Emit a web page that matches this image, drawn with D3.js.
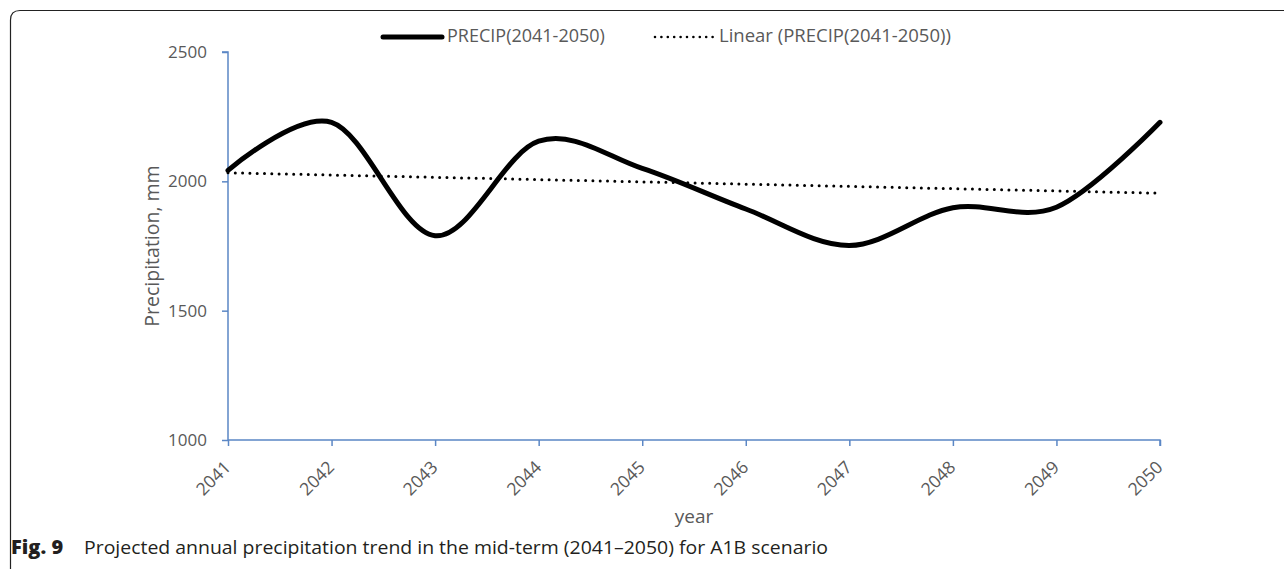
<!DOCTYPE html>
<html>
<head>
<meta charset="utf-8">
<script src="https://cdn.jsdelivr.net/npm/d3@7"></script>
<style>
  html, body { margin: 0; padding: 0; background: #fff; }
  svg { display: block; }
</style>
</head>
<body>
<svg id="chart" width="1284" height="569"></svg>
<script>
// ---- data ----
const years = [2041, 2042, 2043, 2044, 2045, 2046, 2047, 2048, 2049, 2050];
const precip = [2042, 2228, 1790, 2155, 2050, 1893, 1752, 1898, 1900, 2228];
const yTicks = [1000, 1500, 2000, 2500];
const seriesName = "PRECIP(2041-2050)";
const trendName = "Linear (PRECIP(2041-2050))";
const yTitle = "Precipitation, mm";
const xTitle = "year";
const captionBold = "Fig. 9";
const captionText = "Projected annual precipitation trend in the mid-term (2041\u20132050) for A1B scenario";

(function () {
// ---- layout ----
const svg = d3.select("#chart");
const pL = 228, pR = 1160, pT = 52, pB = 440;
const axisColor = "#5b87c5";
const textColor = "#595959";
const font = "'Open Sans', 'Noto Sans', sans-serif";

const x = d3.scaleLinear().domain([2041, 2050]).range([pL, pR]);
const y = d3.scaleLinear().domain([1000, 2500]).range([pB, pT]);

// frame
svg.append("path")
  .attr("d", "M10.5,569 L10.5,20 Q10.5,10.5 20,10.5 L1284,10.5")
  .attr("fill", "none").attr("stroke", "#222").attr("stroke-width", 1.2);

// axes
const yAxis = d3.axisLeft(y).tickValues(yTicks).tickSize(6).tickPadding(15).tickFormat(d3.format("d"));
const gy = svg.append("g").attr("transform", `translate(${pL},0)`).call(yAxis);
gy.select(".domain").attr("stroke", axisColor).attr("stroke-width", 1.5).attr("d", `M-6,${pT}H0V${pB}`);
gy.selectAll(".tick line").attr("stroke", axisColor).attr("stroke-width", 1.5);
gy.selectAll(".tick text").attr("fill", textColor).style("font-family", font).style("font-size", "17px");

const xAxis = d3.axisBottom(x).tickValues(years).tickSize(6).tickFormat(d3.format("d"));
const gx = svg.append("g").attr("transform", `translate(0,${pB})`).call(xAxis);
gx.select(".domain").attr("stroke", axisColor).attr("stroke-width", 1.5).attr("d", `M${pL},0H${pR}V6`);
gx.selectAll(".tick line").attr("stroke", axisColor).attr("stroke-width", 1.5);
gx.selectAll(".tick text")
  .attr("fill", textColor).style("font-family", font).style("font-size", "17.5px")
  .attr("text-anchor", "end")
  .attr("dy", null).attr("y", null)
  .attr("transform", "translate(0,25) rotate(-45)")
  .attr("dominant-baseline", "middle");

// titles
svg.append("text")
  .attr("transform", `translate(154,${(pT + pB) / 2}) rotate(-90)`)
  .attr("text-anchor", "middle").attr("dominant-baseline", "middle")
  .attr("fill", textColor).style("font-family", font).style("font-size", "19.5px")
  .text(yTitle);
svg.append("text")
  .attr("x", (pL + pR) / 2).attr("y", 523)
  .attr("text-anchor", "middle")
  .attr("fill", textColor).style("font-family", font).style("font-size", "19px")
  .text(xTitle);

// trend line (least squares, as the spreadsheet does)
const n = years.length;
const mx = d3.mean(years), my = d3.mean(precip);
const slope = d3.sum(years, (v, i) => (v - mx) * (precip[i] - my)) / d3.sum(years, v => (v - mx) ** 2);
const icpt = my - slope * mx;
const trend = [years[0], years[n - 1]].map(v => [v, icpt + slope * v]);

svg.append("path")
  .attr("d", d3.line().x(d => x(d[0])).y(d => y(d[1]))(trend))
  .attr("fill", "none").attr("stroke", "#000").attr("stroke-width", 3)
  .attr("stroke-linecap", "round").attr("stroke-dasharray", "0 7.3");

// series
const pts = years.map((v, i) => [v, precip[i]]);
svg.append("path")
  .attr("d", d3.line().x(d => x(d[0])).y(d => y(d[1])).curve(d3.curveCardinal.tension(0))(pts))
  .attr("fill", "none").attr("stroke", "#000").attr("stroke-width", 5)
  .attr("stroke-linecap", "round").attr("stroke-linejoin", "round");

// legend
const ly = 37;
svg.append("line").attr("x1", 383).attr("x2", 442).attr("y1", ly).attr("y2", ly)
  .attr("stroke", "#000").attr("stroke-width", 5).attr("stroke-linecap", "round");
svg.append("text").attr("x", 447).attr("y", ly).attr("dominant-baseline", "middle")
  .attr("fill", textColor).style("font-family", font).style("font-size", "18px").text(seriesName);
svg.append("line").attr("x1", 655).attr("x2", 714).attr("y1", ly).attr("y2", ly)
  .attr("stroke", "#000").attr("stroke-width", 2.6).attr("stroke-linecap", "round")
  .attr("stroke-dasharray", "0 6.4");
svg.append("text").attr("x", 719).attr("y", ly).attr("dominant-baseline", "middle")
  .attr("fill", textColor).style("font-family", font).style("font-size", "18.5px").text(trendName);

// caption
svg.append("text").attr("x", 11).attr("y", 554)
  .attr("fill", "#231f20").style("font-family", font).style("font-size", "20px")
  .attr("font-weight", "800").text(captionBold);
svg.append("text").attr("x", 84).attr("y", 554)
  .attr("fill", "#231f20").style("font-family", font).style("font-size", "18.5px")
  .attr("textLength", 744).attr("lengthAdjust", "spacingAndGlyphs").text(captionText);
})();
</script>
</body>
</html>
